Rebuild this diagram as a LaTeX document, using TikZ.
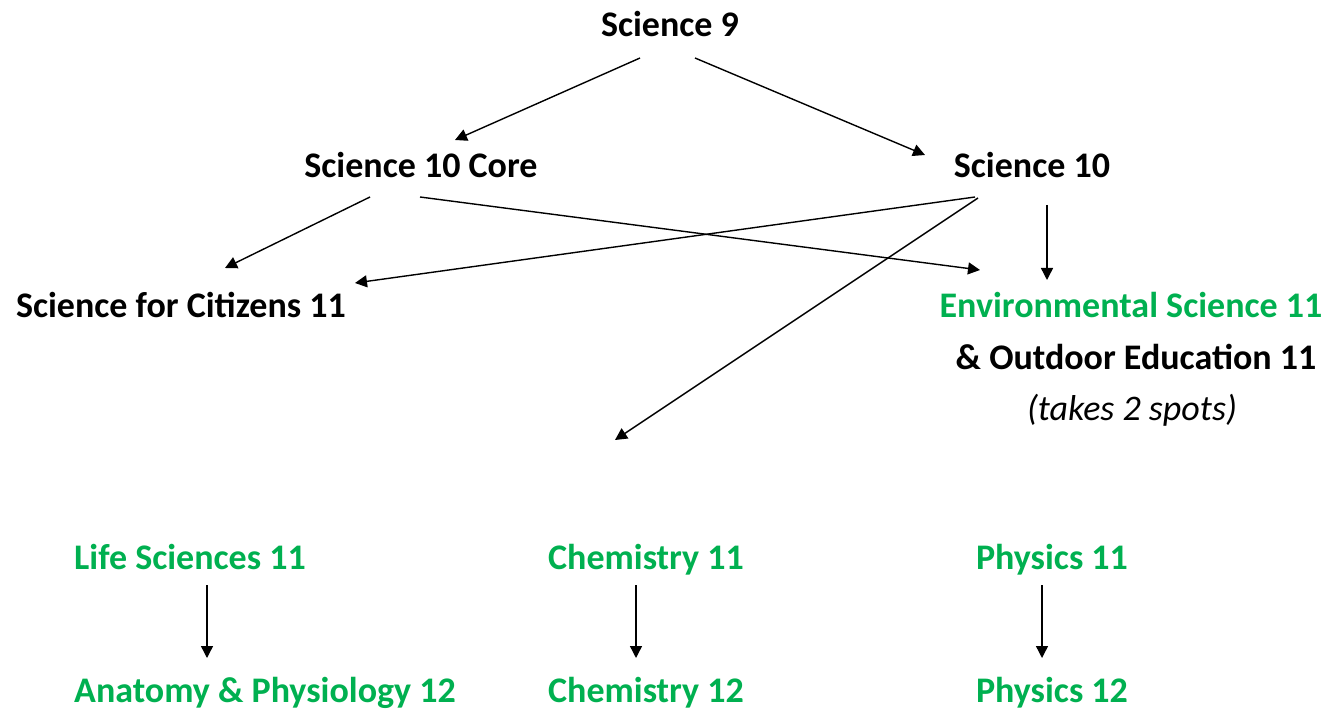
\documentclass[tikz,border=0pt]{standalone}
\usepackage{fontspec}
\setmainfont{Carlito}
\usetikzlibrary{arrows.meta,calc}
\definecolor{cgreen}{RGB}{0,176,80}
\tikzset{
  lbl/.style={inner sep=0pt, font=\fontsize{36}{40}\selectfont\bfseries, text=black},
  glbl/.style={lbl, text=cgreen},
  ilbl/.style={inner sep=0pt, font=\fontsize{36}{40}\selectfont\itshape, text=black},
  arr/.style={line width=1.4pt, -{Triangle[length=12pt,width=12pt]}}
}
\begin{document}
\begin{tikzpicture}[x=1pt,y=-1pt]
\useasboundingbox[fill=white] (0,0) rectangle (1344,711);
\node[lbl,anchor=base] (s9) at (670,37) {Science 9};
\node[lbl,anchor=base] (core) at (421,178) {Science 10 Core};
\node[lbl,anchor=base] (s10) at (1032,178) {Science 10};
\node[lbl,anchor=base] (cit) at (181,318) {Science for Citizens 11};
\node[glbl,anchor=base] (env) at (1131,318) {Environmental Science 11};
\node[lbl,anchor=base] (out) at (1136,370) {\& Outdoor Education 11};
\node[ilbl,anchor=base] (spots) at (1132,420) {(takes 2 spots)};
\node[glbl,anchor=base west] (life) at (74,569) {Life Sciences 11};
\node[glbl,anchor=base west] (anat) at (74,702) {Anatomy \& Physiology 12};
\node[glbl,anchor=base] (chem11) at (646,569) {Chemistry 11};
\node[glbl,anchor=base] (chem12) at (646,702) {Chemistry 12};
\node[glbl,anchor=base] (phys11) at (1052,569) {Physics 11};
\node[glbl,anchor=base] (phys12) at (1052,702) {Physics 12};
\coordinate (free) at (615,440);

\draw[arr] ($(s9.base)+(-30,21)$) -- ($(core.base)+(34,-38)$);
\draw[arr] ($(s9.base)+(25,21)$) -- ($(s10.base)+(-107,-23)$);
\draw[arr] ($(core.base)+(-51,19)$) -- ($(cit.base)+(44,-50)$);
\draw[arr] ($(core.base)+(-1,19)$) -- ($(env.base)+(-151,-48)$);
\draw[arr] ($(s10.base)+(-57,19)$) -- ($(cit.base)+(174,-35)$);
\draw[arr] ($(s10.base)+(-54,20)$) -- (free);
\draw[arr] ($(s10.base)+(15,27)$) -- ($(env.base)+(-84,-38)$);
\draw[arr] ($(life.base west)+(133,16)$) -- ($(anat.base west)+(133,-44)$);
\draw[arr] ($(chem11.base)+(-10,16)$) -- ($(chem12.base)+(-10,-44)$);
\draw[arr] ($(phys11.base)+(-10,16)$) -- ($(phys12.base)+(-10,-44)$);
\end{tikzpicture}
\end{document}
